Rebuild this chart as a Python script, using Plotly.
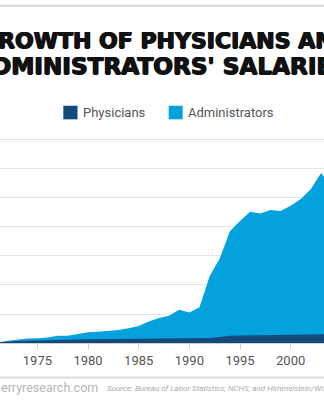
import plotly.graph_objects as go

years = list(range(1970, 2005))
administrators = [0, 3, 35, 61, 78, 82, 95, 127, 127, 156, 187, 194, 208, 226, 255,
                  295, 370, 429, 469, 573, 526, 616, 1151, 1458, 1927, 2105, 2262,
                  2234, 2292, 2274, 2366, 2483, 2656, 2929, 2708]
physicians = [0, 15, 30, 35, 38, 40, 45, 50, 55, 60, 65, 68, 70, 73, 76, 78, 80,
              82, 84, 85, 85, 85, 88, 105, 125, 130, 132, 134, 136, 138, 140, 143,
              146, 150, 152]
tick_years = [1970, 1975, 1980, 1985, 1990, 1995, 2000, 2005]
tick_labels = [str(y) for y in tick_years]
series_names = ["Physicians", "Administrators"]
title_lines = ["GROWTH OF PHYSICIANS AND", "ADMINISTRATORS' SALARIES"]
site_text = "erryresearch.com"
source_text = "Source: Bureau of Labor Statistics; NCHS; and Himmelstein/Woolhandler analysis of CPS"

C_ADMIN = "#04a2dc"
C_PHYS = "#14497c"

W, H = 324, 400
TOP, BOT = 130, 56.5
PH = H - TOP - BOT
ZERO_PX = H - BOT
TOPGRID_PX = 140
YMAX = 3500 * PH / (ZERO_PX - TOPGRID_PX)


def px_x(x):
    return x / W


def px_y(y):
    return (ZERO_PX - y) / PH


fig = go.Figure()
fig.add_trace(go.Scatter(x=years, y=administrators, fill="tozeroy", mode="lines",
                         line=dict(width=0, color=C_ADMIN), fillcolor=C_ADMIN,
                         name=series_names[1], showlegend=False))
fig.add_trace(go.Scatter(x=years, y=physicians, fill="tozeroy", mode="lines",
                         line=dict(width=0, color=C_PHYS), fillcolor=C_PHYS,
                         name=series_names[0], showlegend=False))

shapes = [
    dict(type="line", xref="paper", yref="paper", x0=0, x1=1, y0=px_y(5.5), y1=px_y(5.5),
         line=dict(color="#d6d6d6", width=2)),
    dict(type="line", xref="paper", yref="paper", x0=0, x1=1, y0=px_y(378), y1=px_y(378),
         line=dict(color="#dcdcdc", width=2)),
    dict(type="rect", xref="paper", yref="paper", x0=px_x(63.3), x1=px_x(77.5),
         y0=px_y(119.3), y1=px_y(105.7), fillcolor=C_PHYS, line=dict(width=0)),
    dict(type="rect", xref="paper", yref="paper", x0=px_x(168.7), x1=px_x(182.7),
         y0=px_y(119.3), y1=px_y(105.7), fillcolor=C_ADMIN, line=dict(width=0)),
]

ann = []
shadow = "0.7px 0 0 #111111, -0.7px 0 0 #111111, 0 0.5px 0 #111111"
title_font1 = dict(family="DejaVu Sans", size=22, color="#111111", weight="bold", shadow=shadow)
title_font2 = dict(family="DejaVu Sans", size=23.2, color="#111111", weight="bold", shadow=shadow)
ann.append(dict(text=title_lines[0], x=px_x(166), y=px_y(40), xref="paper", yref="paper",
                xanchor="center", yanchor="middle", showarrow=False, font=title_font1))
ann.append(dict(text=title_lines[1], x=px_x(161.5), y=px_y(65), xref="paper", yref="paper",
                xanchor="center", yanchor="middle", showarrow=False, font=title_font2))
leg_font = dict(family="Roboto", size=13, color="#555555")
ann.append(dict(text=series_names[0], x=px_x(81), y=px_y(112.5), xref="paper", yref="paper",
                xanchor="left", yanchor="middle", showarrow=False, font=leg_font))
ann.append(dict(text=series_names[1], x=px_x(186), y=px_y(112.5), xref="paper", yref="paper",
                xanchor="left", yanchor="middle", showarrow=False, font=leg_font))
ann.append(dict(text=site_text, x=px_x(-1), y=px_y(388.5), xref="paper", yref="paper",
                xanchor="left", yanchor="middle", showarrow=False,
                font=dict(family="Roboto", size=12.5, color="#b5b5b5")))
ann.append(dict(text="<i>" + source_text + "</i>", x=px_x(105), y=px_y(389), xref="paper",
                yref="paper", xanchor="left", yanchor="middle", showarrow=False,
                font=dict(family="Roboto", size=8, color="#aaaaaa")))

fig.update_layout(
    width=W, height=H,
    margin=dict(l=0, r=0, t=TOP, b=BOT, pad=0),
    paper_bgcolor="white", plot_bgcolor="white",
    shapes=shapes, annotations=ann, showlegend=False,
    xaxis=dict(range=[1971.31, 2003.29], tickvals=tick_years, ticktext=tick_labels,
               ticks="outside", ticklen=5, tickcolor="#d0d0d0", tickwidth=1,
               showline=True, linecolor="#cfcfcf", linewidth=1, showgrid=False,
               zeroline=False, tickfont=dict(family="Roboto", size=13, color="#555555")),
    yaxis=dict(range=[0, YMAX], dtick=500, tick0=0, showgrid=True, gridcolor="#e4e4e4",
               gridwidth=1.3, showticklabels=False, zeroline=False, ticks=""),
)

fig.write_html("out.html")
